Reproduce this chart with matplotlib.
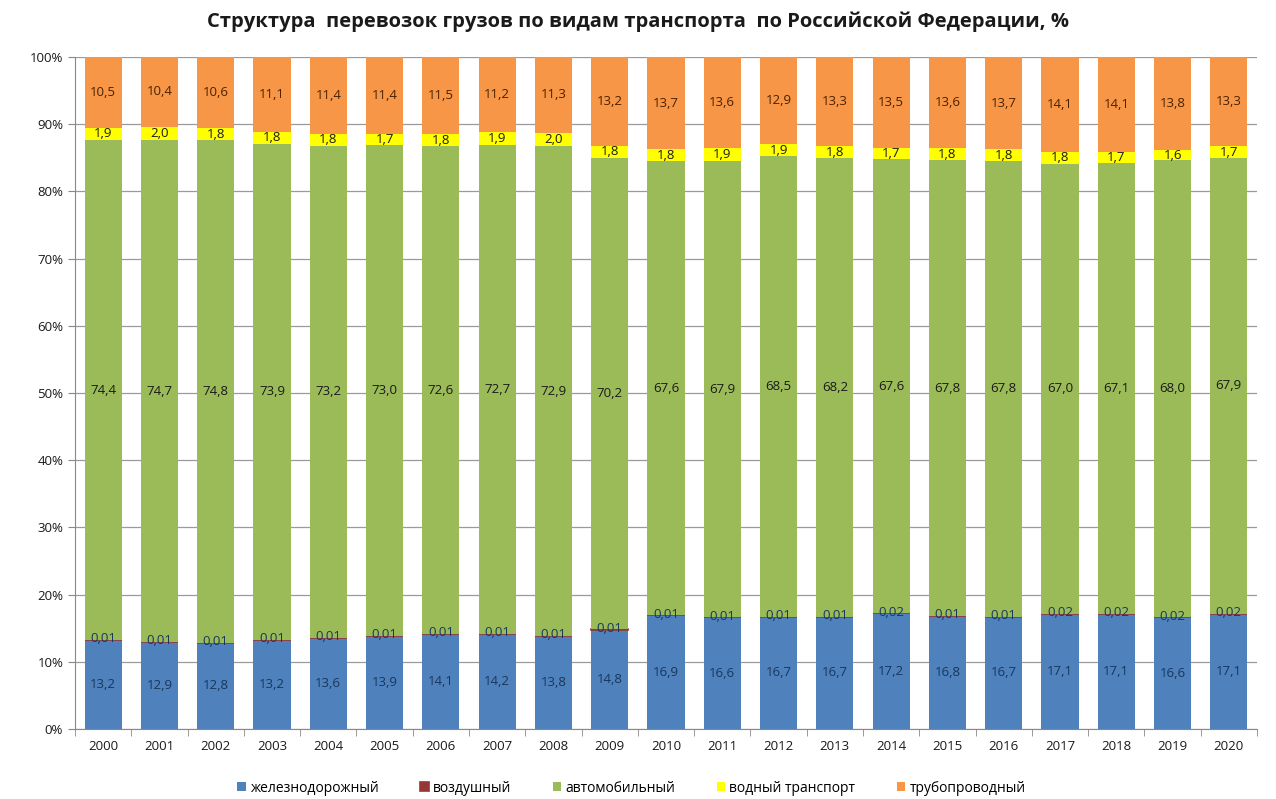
import matplotlib
matplotlib.use("Agg")
import matplotlib.pyplot as plt
import numpy as np
from matplotlib.ticker import PercentFormatter

years = [str(y) for y in range(2000, 2021)]
rail = [13.2, 12.9, 12.8, 13.2, 13.6, 13.9, 14.1, 14.2, 13.8, 14.8, 16.9, 16.6, 16.7, 16.7, 17.2, 16.8, 16.7, 17.1, 17.1, 16.6, 17.1]
air = [0.01, 0.01, 0.01, 0.01, 0.01, 0.01, 0.01, 0.01, 0.01, 0.01, 0.01, 0.01, 0.01, 0.01, 0.02, 0.01, 0.01, 0.02, 0.02, 0.02, 0.02]
auto = [74.4, 74.7, 74.8, 73.9, 73.2, 73.0, 72.6, 72.7, 72.9, 70.2, 67.6, 67.9, 68.5, 68.2, 67.6, 67.8, 67.8, 67.0, 67.1, 68.0, 67.9]
water = [1.9, 2.0, 1.8, 1.8, 1.8, 1.7, 1.8, 1.9, 2.0, 1.8, 1.8, 1.9, 1.9, 1.8, 1.7, 1.8, 1.8, 1.8, 1.7, 1.6, 1.7]
pipe = [10.5, 10.4, 10.6, 11.1, 11.4, 11.4, 11.5, 11.2, 11.3, 13.2, 13.7, 13.6, 12.9, 13.3, 13.5, 13.6, 13.7, 14.1, 14.1, 13.8, 13.3]

series_names = ["железнодорожный", "воздушный", "автомобильный", "водный транспорт", "трубопроводный"]
colors = ["#4F81BD", "#953735", "#9BBB59", "#FFFF00", "#F79646"]
label_colors = ["#17375E", "#17375E", "#1a1a1a", "#1a1a1a", "#4a2200"]

plt.rcParams['font.family'] = ['Open Sans', 'DejaVu Sans']

data = np.array([rail, air, auto, water, pipe])
totals = data.sum(axis=0)
shares = data / totals * 100

fig = plt.figure(figsize=(12.76, 7.99), dpi=100)
ax = fig.add_axes([75/1276, 1-729/799, (1257-75)/1276, (729-57)/799])

x = np.arange(len(years))
bottom = np.zeros(len(years))
w = 0.66
for i, (name, col) in enumerate(zip(series_names, colors)):
    ax.bar(x, shares[i], w, bottom=bottom, color=col, label=name, zorder=3,
           edgecolor=col if i == 1 else 'none', linewidth=1.2 if i == 1 else 0)
    for j in range(len(years)):
        val = data[i][j]
        txt = (f"{val:.2f}" if i == 1 else f"{val:.1f}").replace('.', ',')
        if i == 1:
            y = bottom[j] + 0.2
        else:
            y = bottom[j] + shares[i][j] / 2
        ax.text(x[j], y, txt, ha='center', va='center', fontsize=9.5,
                color=label_colors[i], zorder=4)
    bottom += shares[i]

ax.set_xlim(-0.5, len(years) - 0.5)
ax.set_ylim(0, 100)
ax.yaxis.set_major_locator(plt.MultipleLocator(10))
ax.yaxis.set_major_formatter(PercentFormatter(decimals=0))
ax.set_xticks(x)
ax.set_xticklabels(years)
ax.set_xticks(np.arange(-0.5, len(years)), minor=True)
ax.tick_params(axis='x', which='major', length=0, labelsize=9.5, colors='#1a1a1a', pad=8)
ax.tick_params(axis='x', which='minor', length=5, color='#888888', direction='out')
ax.tick_params(axis='y', length=5, color='#888888', labelsize=9.5, labelcolor='#1a1a1a')
ax.grid(axis='y', color='#9a9a9a', linewidth=0.9, zorder=0)
for s in ['top', 'right']:
    ax.spines[s].set_visible(False)
for s in ['left', 'bottom']:
    ax.spines[s].set_color('#888888')

fig.suptitle("Структура  перевозок грузов по видам транспорта  по Российской Федерации, %",
             x=0.5, y=0.985, fontsize=14.5, fontweight='bold', color='#1a1a1a')

fig.legend(loc='center', bbox_to_anchor=(0.495, 1-788/799), ncol=5, frameon=False,
           fontsize=10, handlelength=0.6, handleheight=0.6, handletextpad=0.3,
           columnspacing=3.0)

fig.savefig("out.png", dpi=100)
